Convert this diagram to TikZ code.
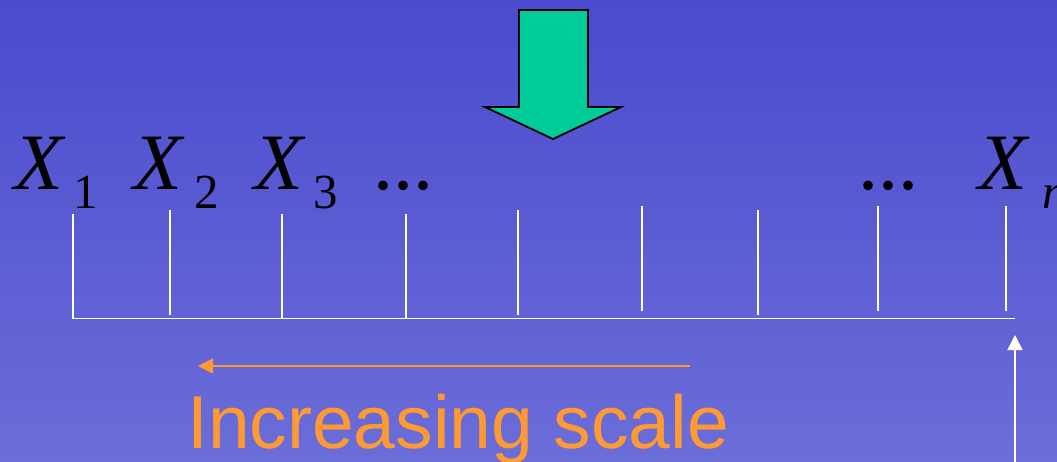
\documentclass[tikz,border=0pt]{standalone}
\usepackage{fontspec}
\setmainfont{Liberation Serif}
\newfontfamily\arialfont{Liberation Sans}
\usetikzlibrary{arrows.meta}
\definecolor{bgtop}{RGB}{74,75,206}
\definecolor{bgbot}{RGB}{107,109,216}
\definecolor{arrowgreen}{RGB}{0,204,153}
\definecolor{scaleorange}{RGB}{255,153,51}
\tikzset{
  tick/.style={draw=white, line width=1.6pt},
  bigX/.style={inner sep=0pt, anchor=base west, font=\fontsize{80}{80}\selectfont\itshape},
  subs/.style={inner sep=0pt, anchor=base west, font=\fontsize{49}{49}\selectfont},
  dots/.style={inner sep=0pt, anchor=base west, font=\fontsize{80}{80}\selectfont},
}
\begin{document}
\begin{tikzpicture}[x=1pt,y=-1pt]
\useasboundingbox (0,0) rectangle (1057,461);
\shade[top color=bgtop, bottom color=bgbot] (0,0) rectangle (1057,461);
\clip (0,0) rectangle (1057,461);
% green arrow
\draw[fill=arrowgreen, draw=black, line width=1.8pt, line join=miter]
  (519,10) -- (588,10) -- (588,107) -- (621,107) -- (553,139) -- (485,107) -- (519,107) -- cycle;
% labels
\node[bigX] (x1) at (14,189) {X};
\node[subs] (s1) at (73,208) {1};
\node[bigX] (x2) at (133,189) {X};
\node[subs] (s2) at (194,208) {2};
\node[bigX] (x3) at (254,189) {X};
\node[subs] (s3) at (313,208) {3};
\node[dots] (d1) at (373,189) {...};
\node[dots] (d2) at (858,189) {...};
\node[bigX] (xn) at (978,189) {X};
\node[subs, font=\fontsize{49}{49}\selectfont\itshape] (sn) at (1042,208) {n};
% ruler
\coordinate (bl) at (73,318.5);
\coordinate (br) at (1015,318.5);
\draw[tick] (bl) -- (br);
\foreach \x/\t/\b in {73/214/318.5, 170/210/315, 282/214/318.5, 406/214/318.5, 518/210/315, 642/206/311, 758/210/315, 878/206/311, 1006/206/311}
  \draw[tick] (\x,\t) -- (\x,\b);
% orange arrow
\coordinate (oa) at (690,366);
\coordinate (ob) at (198,366);
\draw[scaleorange, line width=1.6pt, -{Triangle[length=15pt,width=15pt]}] (oa) -- (ob);
\node[inner sep=0pt, anchor=base west, text=scaleorange, font=\arialfont\fontsize{75}{75}\selectfont] (inc) at (187,448) {Increasing scale};
% white arrow
\coordinate (wa) at (1015,470);
\coordinate (wb) at (1015,335);
\draw[white, line width=1.6pt, -{Triangle[length=15pt,width=15pt]}] (wa) -- (wb);
\end{tikzpicture}
\end{document}
